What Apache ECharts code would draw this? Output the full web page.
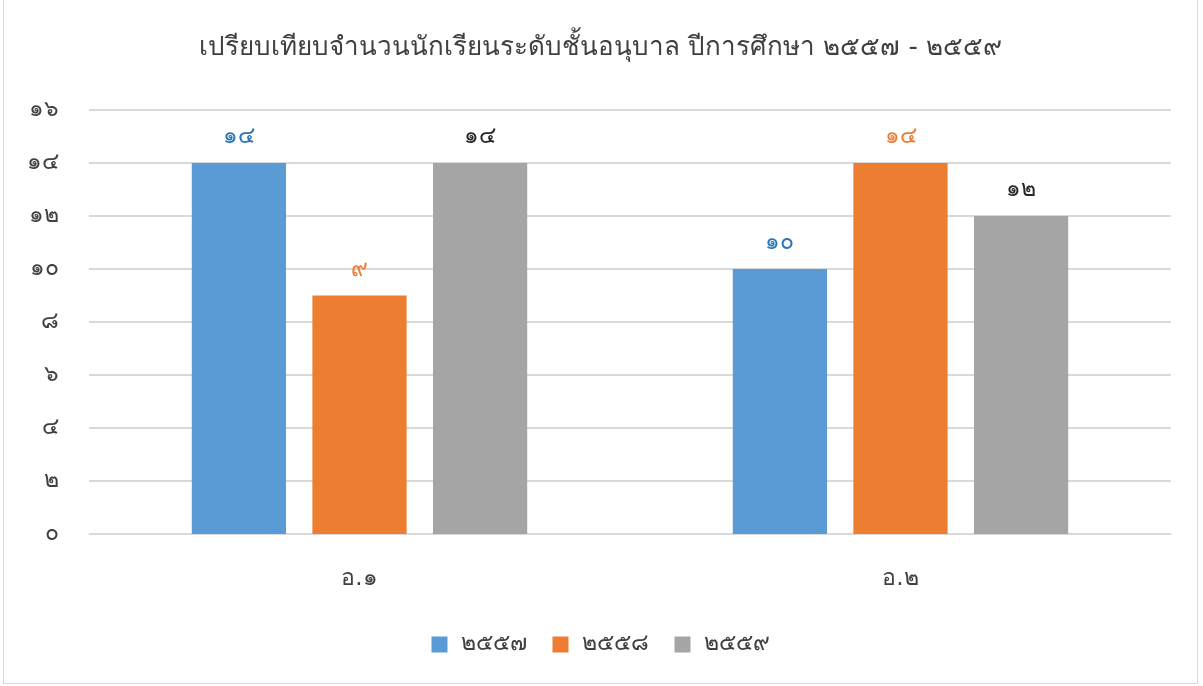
<!DOCTYPE html>
<html>
<head>
<meta charset="utf-8">
<script src="https://cdn.jsdelivr.net/npm/echarts@6/dist/echarts.min.js"></script>
<style>
  html, body { margin: 0; padding: 0; background: #fff; }
  #chart {
    position: absolute;
    left: 3px; top: 0px;
    width: 1193px; height: 683px;
    border: 1px solid #d9d9d9;
    border-top: none;
  }
</style>
</head>
<body>
<div id="chart"></div>
<script>
// ข้อมูล
const categories = ['อ.๑', 'อ.๒']
const seriesNames = ['๒๕๕๗', '๒๕๕๘', '๒๕๕๙']
const values2557 = [14, 10]
const values2558 = [9, 14]
const values2559 = [14, 12]
const thaiDigits = ['๐', '๑', '๒', '๓', '๔', '๕', '๖', '๗', '๘', '๙']

function toThai(n) {
  return String(n).replace(/[0-9]/g, d => thaiDigits[d])
}

const font = 'Tahoma, "DejaVu Sans", "Noto Sans", sans-serif'
const barColors = ['#5B9BD5', '#ED7D31', '#A5A5A5']
const labelColors = ['#2E75B6', '#ED7D31', '#262626']
const allValues = [values2557, values2558, values2559]

const myChart = echarts.init(document.getElementById('chart'))
const option = {
  animation: false,
  textStyle: { fontFamily: font },
  title: {
    text: 'เปรียบเทียบจำนวนนักเรียนระดับชั้นอนุบาล ปีการศึกษา ๒๕๕๗ - ๒๕๕๙',
    left: 'center',
    top: 30,
    textStyle: { fontSize: 26, fontWeight: 'normal', color: '#404040', fontFamily: font }
  },
  legend: {
    data: seriesNames,
    bottom: 22,
    left: 'center',
    itemWidth: 16,
    itemHeight: 16,
    itemGap: 26,
    icon: 'rect',
    textStyle: { fontSize: 23, color: '#404040', fontFamily: font, padding: [0, 0, 0, 8] }
  },
  grid: {
    left: 85,
    right: 26,
    top: 110,
    bottom: 149
  },
  xAxis: {
    type: 'category',
    data: categories,
    axisLine: { lineStyle: { color: '#d9d9d9' } },
    axisTick: { show: false },
    axisLabel: { fontSize: 23, color: '#404040', margin: 34, fontFamily: font }
  },
  yAxis: {
    type: 'value',
    min: 0,
    max: 16,
    interval: 2,
    axisLine: { show: false },
    axisTick: { show: false },
    splitLine: { lineStyle: { color: '#d9d9d9', width: 2 } },
    axisLabel: {
      fontSize: 23,
      color: '#404040',
      margin: 30,
      fontFamily: font,
      formatter: v => toThai(v)
    }
  },
  series: seriesNames.map((name, i) => ({
    name: name,
    type: 'bar',
    data: allValues[i],
    barGap: '28%',
    barCategoryGap: '38%',
    itemStyle: { color: barColors[i] },
    label: {
      show: true,
      position: 'top',
      distance: 14,
      fontSize: 23,
      color: labelColors[i],
      fontFamily: font,
      formatter: p => toThai(p.value)
    }
  }))
}
myChart.setOption(option)
window.onresize = () => myChart.resize()
</script>
</body>
</html>
